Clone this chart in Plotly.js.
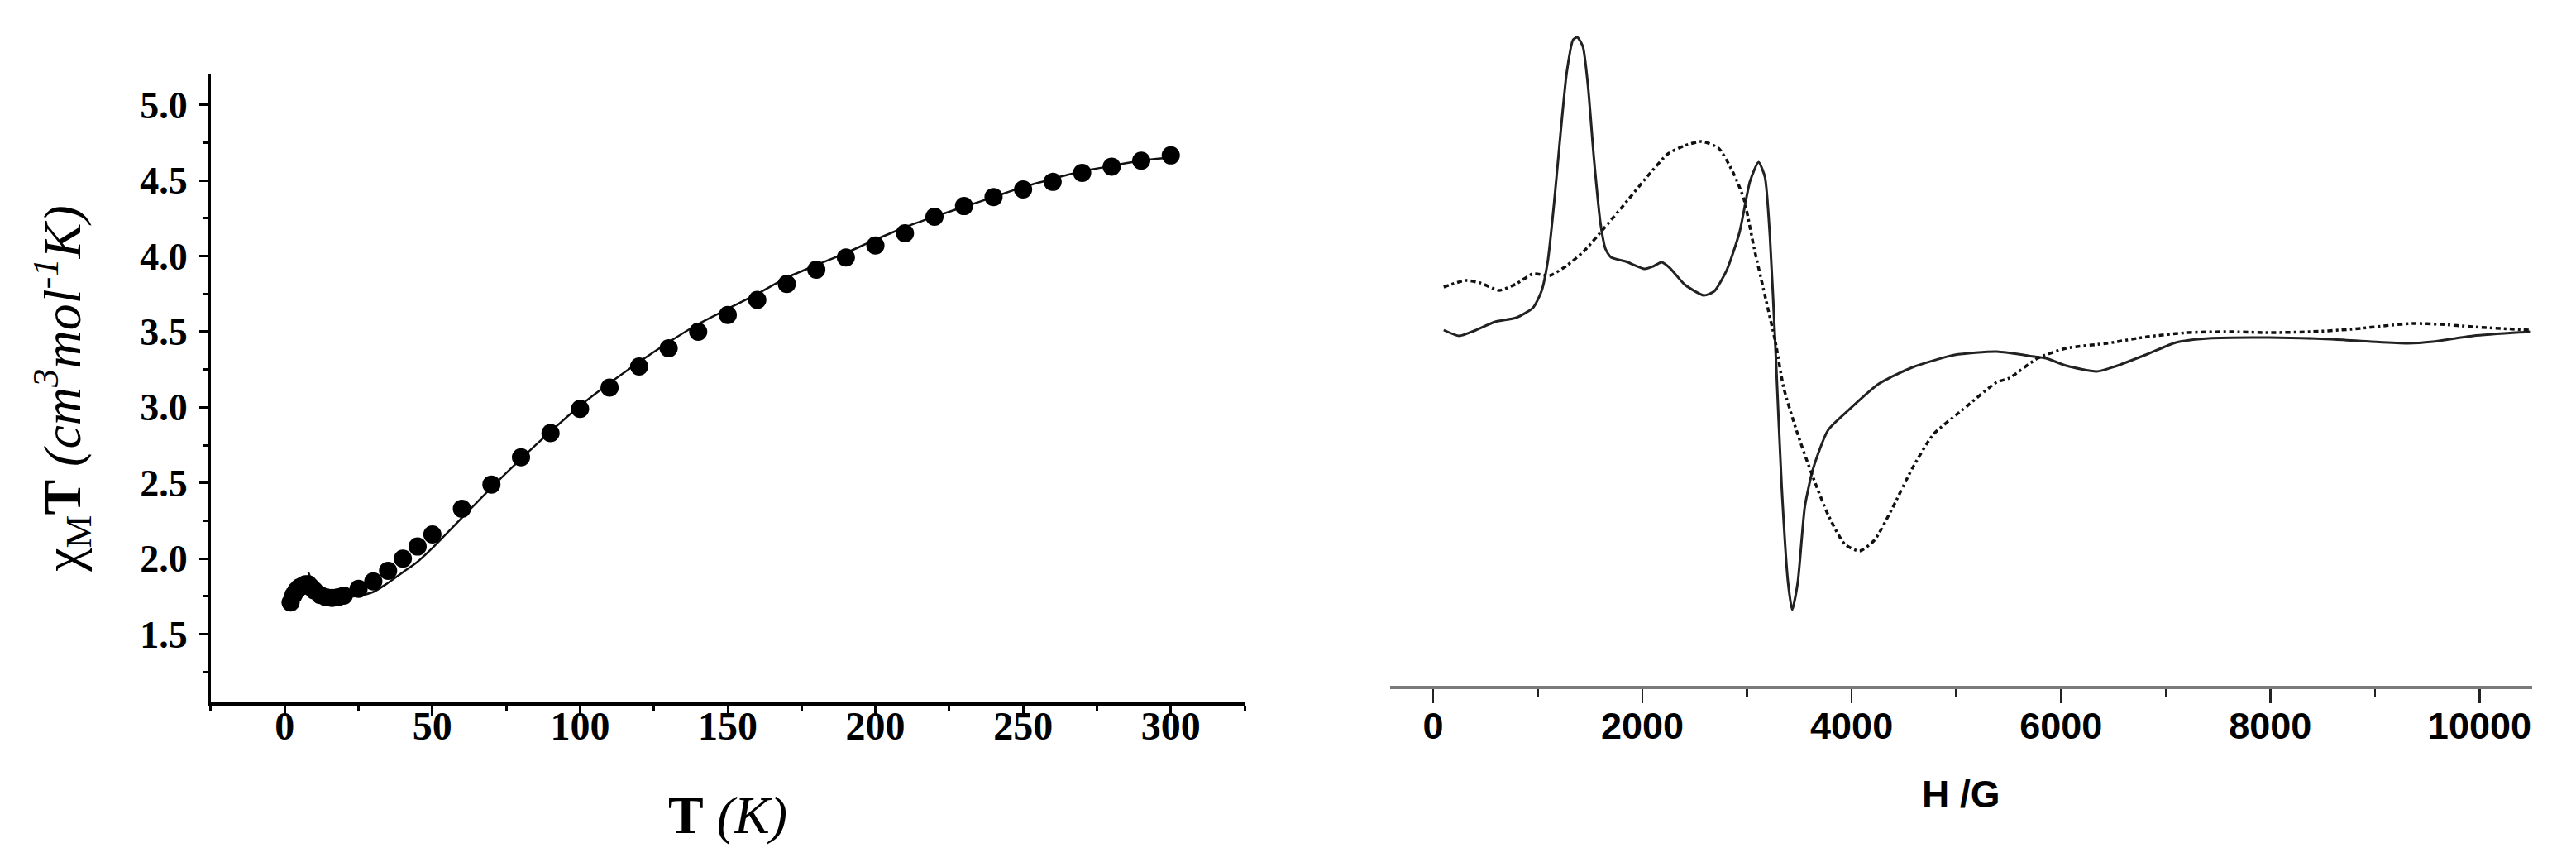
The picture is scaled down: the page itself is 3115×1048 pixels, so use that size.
<!DOCTYPE html>
<html>
<head>
<meta charset="utf-8">
<script src="https://cdn.plot.ly/plotly-3.0.1.min.js"></script>
<style>html,body{margin:0;padding:0;background:#fff;}#chart{width:3115px;height:1048px;}</style>
</head>
<body>
<div id="chart"></div>
<script>
// ---- Left panel: chi_M T vs T ----
const T_data = [2, 3, 4, 5, 6, 7, 8, 9, 10, 12, 14, 16, 18, 20, 25, 30, 35, 40, 45, 50, 60, 70, 80, 90, 100, 110, 120, 130, 140, 150, 160, 170, 180, 190, 200, 210, 220, 230, 240, 250, 260, 270, 280, 290, 300];
const chiT_data = [1.71, 1.76, 1.79, 1.81, 1.82, 1.83, 1.83, 1.81, 1.79, 1.76, 1.745, 1.74, 1.745, 1.755, 1.80, 1.85, 1.92, 2.00, 2.08, 2.16, 2.33, 2.49, 2.67, 2.83, 2.99, 3.13, 3.27, 3.39, 3.50, 3.61, 3.71, 3.815, 3.91, 3.99, 4.07, 4.15, 4.26, 4.33, 4.39, 4.44, 4.49, 4.55, 4.59, 4.63, 4.665];
const T_fit = [8, 10, 12, 15, 20, 25, 30, 35, 40, 45, 50, 60, 70, 80, 90, 100, 110, 120, 130, 140, 150, 160, 170, 180, 190, 200, 210, 220, 230, 240, 250, 260, 270, 280, 290, 300];
const chiT_fit = [1.91, 1.82, 1.78, 1.755, 1.745, 1.755, 1.78, 1.84, 1.91, 1.98, 2.07, 2.27, 2.47, 2.66, 2.84, 3.01, 3.16, 3.30, 3.43, 3.55, 3.65, 3.75, 3.857, 3.94, 4.02, 4.108, 4.19, 4.26, 4.325, 4.39, 4.456, 4.51, 4.56, 4.596, 4.63, 4.65];
const T_ticks = [0, 50, 100, 150, 200, 250, 300];
const chiT_ticks = [1.5, 2.0, 2.5, 3.0, 3.5, 4.0, 4.5, 5.0];

// ---- Right panel: EPR spectra (arbitrary intensity) ----
const H_solid = [102, 251, 391, 593, 795, 955, 1036, 1096, 1157, 1217, 1278, 1338, 1378, 1431, 1479, 1539, 1600, 1648, 1700, 1841, 2023, 2103, 2184, 2264, 2405, 2587, 2687, 2808, 2928, 3029, 3110, 3171, 3219, 3271, 3331, 3392, 3432, 3485, 3553, 3633, 3774, 3976, 4258, 4580, 4983, 5386, 5746, 5856, 6050, 6342, 6516, 6827, 7099, 7411, 7994, 8577, 8966, 9315, 9551, 9938, 10482];
const I_solid = [4.30, 4.23, 4.29, 4.40, 4.45, 4.57, 4.77, 5.13, 5.84, 6.66, 7.42, 7.81, 7.84, 7.73, 7.27, 6.35, 5.59, 5.28, 5.18, 5.13, 5.04, 5.07, 5.12, 5.05, 4.85, 4.72, 4.77, 5.03, 5.48, 6.10, 6.33, 6.15, 5.43, 4.11, 2.42, 1.25, 0.92, 1.25, 2.17, 2.63, 3.09, 3.34, 3.65, 3.85, 4.00, 4.04, 3.98, 3.96, 3.87, 3.80, 3.86, 4.01, 4.15, 4.20, 4.21, 4.19, 4.16, 4.14, 4.16, 4.23, 4.28];
const H_dot = [102, 311, 452, 633, 795, 955, 1117, 1278, 1439, 1640, 1841, 2043, 2244, 2405, 2565, 2728, 2869, 2969, 3070, 3171, 3271, 3351, 3472, 3613, 3774, 3935, 4077, 4217, 4378, 4580, 4781, 5063, 5386, 5506, 5778, 6050, 6439, 6827, 7216, 7605, 7994, 8383, 8771, 9160, 9355, 9627, 9938, 10482];
const I_dot = [4.82, 4.90, 4.87, 4.78, 4.86, 4.98, 4.96, 5.08, 5.25, 5.54, 5.84, 6.15, 6.43, 6.53, 6.58, 6.50, 6.20, 5.89, 5.28, 4.72, 4.16, 3.60, 3.09, 2.58, 2.07, 1.71, 1.63, 1.76, 2.12, 2.63, 3.04, 3.34, 3.67, 3.72, 3.96, 4.08, 4.14, 4.22, 4.27, 4.28, 4.27, 4.28, 4.31, 4.36, 4.38, 4.37, 4.34, 4.30];
const H_ticks = [0, 2000, 4000, 6000, 8000, 10000];

const serif = 'Liberation Serif, Times New Roman, serif';
const sans = 'Liberation Sans, Arial, sans-serif';
const clear = 'rgba(0,0,0,0)';

const traces = [
  {x: T_fit, y: chiT_fit, xaxis: 'x', yaxis: 'y', mode: 'lines', type: 'scatter',
   line: {color: '#111', width: 2.5, shape: 'spline', smoothing: 0.8}, hoverinfo: 'skip'},
  {x: T_data, y: chiT_data, xaxis: 'x', yaxis: 'y', mode: 'markers', type: 'scatter',
   marker: {color: '#000', size: 22, line: {width: 0}}},
  {x: H_solid, y: I_solid, xaxis: 'x2', yaxis: 'y2', mode: 'lines', type: 'scatter',
   line: {color: '#222', width: 3, shape: 'spline', smoothing: 0.6}},
  {x: H_dot, y: I_dot, xaxis: 'x2', yaxis: 'y2', mode: 'lines', type: 'scatter',
   line: {color: '#111', width: 3.5, shape: 'spline', smoothing: 0.6, dash: '6px,4px,3px,4px'}},
  // empty traces that register the label-only overlay axes
  {x: [], y: [], xaxis: 'x3', yaxis: 'y', mode: 'markers', type: 'scatter', hoverinfo: 'skip'},
  {x: [], y: [], xaxis: 'x4', yaxis: 'y2', mode: 'markers', type: 'scatter', hoverinfo: 'skip'}
];

const layout = {
  width: 3115, height: 1048,
  margin: {l: 0, r: 0, t: 0, b: 0},
  paper_bgcolor: '#fff', plot_bgcolor: '#fff',
  showlegend: false,
  // left panel: axis line + ticks
  xaxis: {
    domain: [0.08186, 0.48315], range: [-25, 325], anchor: 'y',
    showline: true, linecolor: '#000', linewidth: 4, mirror: false,
    showgrid: false, zeroline: false,
    ticks: 'outside', ticklen: 12, tickwidth: 3, tickcolor: '#000',
    tickmode: 'array', tickvals: T_ticks, showticklabels: false,
    minor: {ticks: 'outside', ticklen: 6, tickwidth: 3, tickcolor: '#000', dtick: 25, tick0: 0, showgrid: false}
  },
  // left panel: tick labels + title (overlay axis, nudged towards the plot)
  xaxis3: {
    domain: [0.08186, 0.48315], range: [-25, 325], overlaying: 'x', anchor: 'free', position: 0.21565, side: 'bottom',
    showline: true, linecolor: clear, linewidth: 4,
    showgrid: false, zeroline: false,
    ticks: 'outside', ticklen: 12, tickwidth: 3, tickcolor: clear,
    tickmode: 'array', tickvals: T_ticks, ticktext: T_ticks.map(String),
    tickfont: {family: serif, size: 48, color: '#000', weight: 'bold'},
    title: {text: '<b>T</b> <i>(K)</i>', font: {family: serif, size: 64, color: '#000'}, standoff: 59}
  },
  yaxis: {
    domain: [0.18989, 0.91412], range: [1.05, 5.2], anchor: 'x',
    showline: true, linecolor: '#000', linewidth: 4, mirror: false,
    showgrid: false, zeroline: false,
    ticks: 'outside', ticklen: 10, tickwidth: 3, tickcolor: '#000',
    tickmode: 'array', tickvals: chiT_ticks, ticktext: chiT_ticks.map(v => v.toFixed(1)),
    minor: {ticks: 'outside', ticklen: 6, tickwidth: 3, tickcolor: '#000', dtick: 0.25, tick0: 0, showgrid: false},
    tickfont: {family: serif, size: 46, color: '#000', weight: 'bold'},
    ticklabelstandoff: 5,
    title: {text: '\u03c7<sub>M</sub><b>T</b> <i>(cm<sup>3</sup>mol<sup>-1</sup>K)</i>', font: {family: serif, size: 64, color: '#000'}, standoff: 52}
  },
  // right panel: axis line + ticks
  xaxis2: {
    domain: [0.53965, 0.98289], range: [-410, 10500], anchor: 'y2',
    showline: true, linecolor: '#7a7a7a', linewidth: 4, mirror: false,
    showgrid: false, zeroline: false,
    ticks: 'outside', ticklen: 17, tickwidth: 2.5, tickcolor: '#222',
    tickmode: 'array', tickvals: H_ticks, showticklabels: false,
    minor: {ticks: 'outside', ticklen: 10, tickwidth: 2.5, tickcolor: '#222', dtick: 1000, tick0: 0, showgrid: false}
  },
  // right panel: tick labels + title (overlay axis)
  xaxis4: {
    domain: [0.53965, 0.98289], range: [-410, 10500], overlaying: 'x2', anchor: 'free', position: 0.21756, side: 'bottom',
    showline: true, linecolor: clear, linewidth: 4,
    showgrid: false, zeroline: false,
    ticks: 'outside', ticklen: 17, tickwidth: 2.5, tickcolor: clear,
    tickmode: 'array', tickvals: H_ticks, ticktext: H_ticks.map(String),
    tickfont: {family: sans, size: 45, color: '#000', weight: 'bold'},
    title: {text: 'H /G', font: {family: sans, size: 46, color: '#000', weight: 'bold'}, standoff: 41}
  },
  yaxis2: {
    domain: [0.20897, 0.97137], range: [0, 7.99], anchor: 'x2',
    visible: false, showgrid: false, zeroline: false
  }
};

Plotly.newPlot('chart', traces, layout, {staticPlot: true, displayModeBar: false});
</script>
</body>
</html>
